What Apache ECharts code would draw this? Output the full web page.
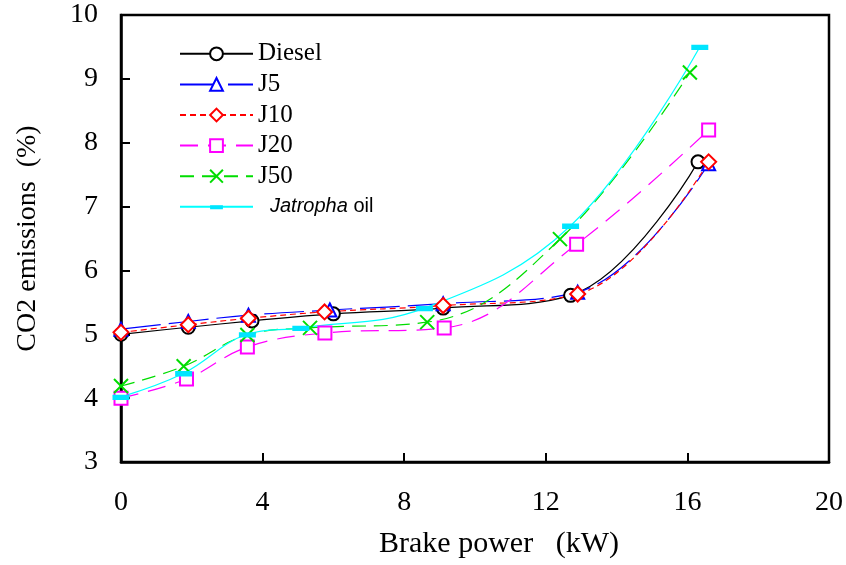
<!DOCTYPE html>
<html>
<head>
<meta charset="utf-8">
<script src="https://cdn.jsdelivr.net/npm/echarts@6/dist/echarts.min.js"></script>
<style>html,body{margin:0;padding:0;background:#fff}#c{width:846px;height:565px}</style>
</head>
<body>
<div id="c"></div>
<script>
// Data (x = brake power kW, y = CO2 %)
const seriesNames = ['Diesel', 'J5', 'J10', 'J20', 'J50', 'Jatropha oil'];
const dieselData = [[0, 5.0], [1.9, 5.11], [3.7, 5.21], [6.0, 5.32], [9.1, 5.41], [12.7, 5.61], [16.3, 7.7]];
const j5Data = [[0, 5.08], [1.9, 5.2], [3.6, 5.3], [5.9, 5.38], [9.1, 5.48], [12.9, 5.66], [16.6, 7.67]];
const j10Data = [[0, 5.03], [1.9, 5.15], [3.6, 5.25], [5.75, 5.35], [9.1, 5.45], [12.9, 5.63], [16.6, 7.7]];
const j20Data = [[0, 4.0], [1.85, 4.3], [3.57, 4.8], [5.76, 5.02], [9.13, 5.1], [12.87, 6.41], [16.6, 8.2]];
const j50Data = [[0, 4.19], [1.77, 4.5], [3.57, 4.99], [5.34, 5.1], [8.65, 5.19], [12.4, 6.49], [16.07, 9.1]];
const jatrophaData = [[0, 4.02], [1.77, 4.39], [3.57, 5.0], [5.08, 5.1], [8.57, 5.41], [12.7, 6.7], [16.35, 9.5]];
const xTicks = {min: 0, max: 20, interval: 4};
const yTicks = {min: 3, max: 10, interval: 1};

const serif = '"Liberation Serif", "Times New Roman", serif';
const sans = '"Liberation Sans", Arial, sans-serif';
const barSymbol = 'path://M0,6L16,6L16,11L0,11Z M0,0L0.01,0 M0,16L0.01,16';

function mk(name, data, color, symbol, size, dash, extra) {
  return Object.assign({
    name: name, type: 'line', data: data, smooth: 0.4,
    symbol: symbol, symbolSize: size,
    lineStyle: {color: color, width: 1.2, type: dash},
    itemStyle: {color: color, borderColor: color, borderWidth: 2}
  }, extra || {});
}

const chart = echarts.init(document.getElementById('c'));
chart.setOption({
  animation: false,
  backgroundColor: '#fff',
  grid: {left: 121, right: 15, top: 15, bottom: 103, show: true, borderColor: '#000', borderWidth: 2.5},
  legend: {
    orient: 'vertical', left: 174, top: 36, itemWidth: 73, itemHeight: 16, itemGap: 5,
    textStyle: {fontFamily: serif, fontSize: 25, color: '#000', lineHeight: 25.6,
      rich: {
        i: {fontFamily: sans, fontStyle: 'italic', fontSize: 20, padding: [0, 0, 0, 12]},
        o: {fontFamily: sans, fontSize: 20}
      }},
    formatter: function (n) { return n === 'Jatropha oil' ? '{i|Jatropha}{o| oil}' : n; },
    data: seriesNames
  },
  xAxis: {
    type: 'value', min: xTicks.min, max: xTicks.max, interval: xTicks.interval,
    name: 'Brake power   (kW)', nameLocation: 'middle', nameGap: 67,
    nameTextStyle: {fontFamily: serif, fontSize: 30, color: '#000', padding: [0, 0, 0, 48]},
    axisLine: {lineStyle: {color: '#000', width: 2.5}},
    axisTick: {inside: true, length: 9, lineStyle: {color: '#000', width: 2}},
    axisLabel: {fontFamily: serif, fontSize: 28, color: '#000', margin: 27},
    splitLine: {show: false}
  },
  yAxis: {
    type: 'value', min: yTicks.min, max: yTicks.max, interval: yTicks.interval,
    name: 'CO2 emissions  (%)', nameLocation: 'middle', nameGap: 79,
    nameTextStyle: {fontFamily: serif, fontSize: 28, color: '#000'},
    axisLine: {lineStyle: {color: '#000', width: 2.5}},
    axisTick: {inside: true, length: 9, lineStyle: {color: '#000', width: 2}},
    axisLabel: {fontFamily: serif, fontSize: 28, color: '#000', margin: 23},
    splitLine: {show: false}
  },
  series: [
    mk('Diesel', dieselData, '#000000', 'emptyCircle', 13, 'solid'),
    mk('J5', j5Data, '#0000ff', 'emptyTriangle', 13, [40, 8]),
    mk('J10', j10Data, '#ff0000', 'emptyDiamond', 15, [6, 4]),
    mk('J20', j20Data, '#ff00ff', 'rect', 13, [18, 10], {itemStyle: {color: '#fff', borderColor: '#ff00ff', borderWidth: 2}}),
    mk('J50', j50Data, '#00dd00', 'path://M0,0L10,10M10,0L0,10', 14, [14, 8], {itemStyle: {color: 'transparent', borderColor: '#00dd00', borderWidth: 2}}),
    mk('Jatropha oil', jatrophaData, '#00ffff', barSymbol, 17, 'solid', {itemStyle: {color: '#00e5ff', borderWidth: 0}})
  ]
});
</script>
</body>
</html>
